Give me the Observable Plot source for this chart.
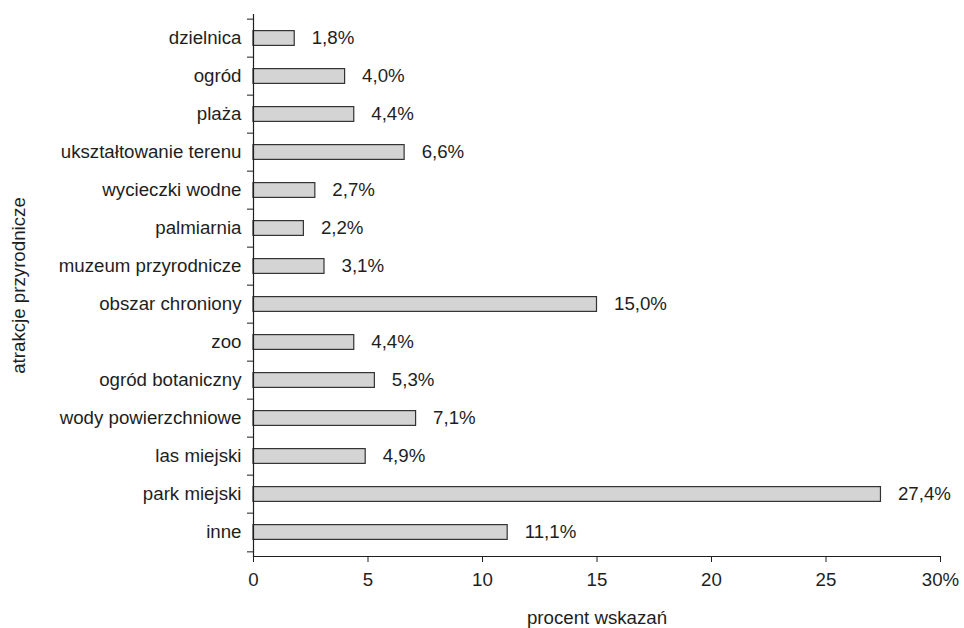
<!DOCTYPE html>
<html>
<head>
<meta charset="utf-8">
<script src="https://cdn.jsdelivr.net/npm/d3@7"></script>
<script src="https://cdn.jsdelivr.net/npm/@observablehq/plot@0.6"></script>
<style>
  html, body { margin: 0; padding: 0; background: #fff; }
  #chart svg { display: block; }
</style>
</head>
<body>
<div id="chart"></div>
<script>
// Atrakcje przyrodnicze – procent wskazań
const categories = [
  "dzielnica", "ogród", "plaża", "ukształtowanie terenu", "wycieczki wodne",
  "palmiarnia", "muzeum przyrodnicze", "obszar chroniony", "zoo",
  "ogród botaniczny", "wody powierzchniowe", "las miejski", "park miejski", "inne"
];
const values = [1.8, 4.0, 4.4, 6.6, 2.7, 2.2, 3.1, 15.0, 4.4, 5.3, 7.1, 4.9, 27.4, 11.1];
const xTicks = [0, 5, 10, 15, 20, 25, 30];

const data = categories.map((name, i) => ({name, value: values[i]}));
const fmt = v => v.toFixed(1).replace(".", ",") + "%";

const W = 964, H = 628;
const mTop = 14, mBottom = 72, mLeft = 253, mRight = 24;
const step = (H - mTop - mBottom) / categories.length;
const inset = step * 0.3;
const ink = "#1e1e1e";
const fs = 18.7;

const chart = Plot.plot({
  width: W,
  height: H,
  marginTop: mTop,
  marginBottom: mBottom,
  marginLeft: mLeft,
  marginRight: mRight,
  style: {fontFamily: "'Liberation Sans', Arial, sans-serif", fontSize: fs + "px", color: ink, background: "#fff"},
  x: {domain: [0, 30]},
  y: {domain: categories, padding: 0},
  marks: [
    Plot.barX(data, {x: "value", y: "name", insetTop: inset, insetBottom: inset,
      fill: "#d4d4d4", stroke: "#333", strokeWidth: 1.2}),
    Plot.text(data, {x: "value", y: "name", text: d => fmt(d.value), textAnchor: "start", dx: 17, fill: ink, fontSize: fs}),
    // category labels
    Plot.axisY({tickSize: 0, tickPadding: 12, label: null, fontSize: fs}),
    // ticks on band boundaries
    Plot.axisY(categories, {text: null, tickSize: 6, dy: -step / 2, label: null, stroke: ink}),
    Plot.axisY([categories[categories.length - 1]], {text: null, tickSize: 6, dy: step / 2, label: null, stroke: ink}),
    Plot.axisX(xTicks, {tickSize: 6, tickPadding: 10, label: null, fontSize: fs, stroke: ink,
      tickFormat: d => d === 30 ? "30%" : String(d)}),
    Plot.ruleX([0], {stroke: ink, strokeWidth: 1.2}),
    Plot.frame({anchor: "bottom", stroke: ink, strokeWidth: 1.2}),
    Plot.text(["procent wskazań"], {frameAnchor: "bottom", lineAnchor: "middle", dy: 62, fill: ink, fontSize: fs}),
    Plot.text(["atrakcje przyrodnicze"], {frameAnchor: "left", textAnchor: "middle", lineAnchor: "middle", dx: -234, rotate: -90, fill: ink, fontSize: fs})
  ]
});

document.getElementById("chart").appendChild(chart);
</script>
</body>
</html>
